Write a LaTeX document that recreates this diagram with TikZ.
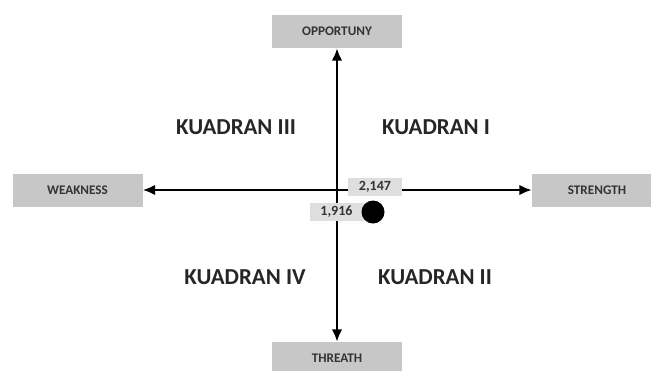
\documentclass[tikz,border=0pt]{standalone}
\usepackage{fontspec}
\setmainfont{Carlito}
\usetikzlibrary{arrows.meta,positioning}

\begin{document}
\begin{tikzpicture}[x=0.02cm,y=-0.02cm,>={Latex[length=7pt,width=6pt]},
  axisbox/.style={fill=black!22,minimum width=130*0.02cm,minimum height=33*0.02cm,font=\fontsize{7.5}{8}\selectfont\bfseries,text=black!80},
  valbox/.style={fill=black!13,minimum width=54*0.02cm,minimum height=18*0.02cm,inner sep=1pt,font=\fontsize{8}{8}\selectfont\bfseries,text=black!80},
  kuad/.style={font=\fontsize{13}{14}\selectfont\bfseries,text=black!85}]
  \useasboundingbox (0,0) rectangle (651,370);
  % sumbu
  \node[axisbox](opp) at (337,31.5){OPPORTUNY};
  \node[axisbox](thr) at (337,358.5){THREATH};
  \node[axisbox](wea) at (77.5,190){WEAKNESS};
  \node[axisbox](str) at (597,190){STRENGTH};
  \draw[<->,line width=1.1pt] (opp.south) -- (thr.north);
  \draw[<->,line width=1.1pt] (wea.east) -- (str.west);
  % kuadran
  \node[kuad](k3) at (236,127){KUADRAN III};
  \node[kuad](k1) at (436,127){KUADRAN I};
  \node[kuad](k4) at (245,277){KUADRAN IV};
  \node[kuad](k2) at (435,277){KUADRAN II};
  % posisi
  \node[valbox](vx) at (375,186.5){2,147};
  \node[valbox](vy) at (336.5,211.5){1,916};
  \fill (373,212) circle (11.5);
\end{tikzpicture}
\end{document}
